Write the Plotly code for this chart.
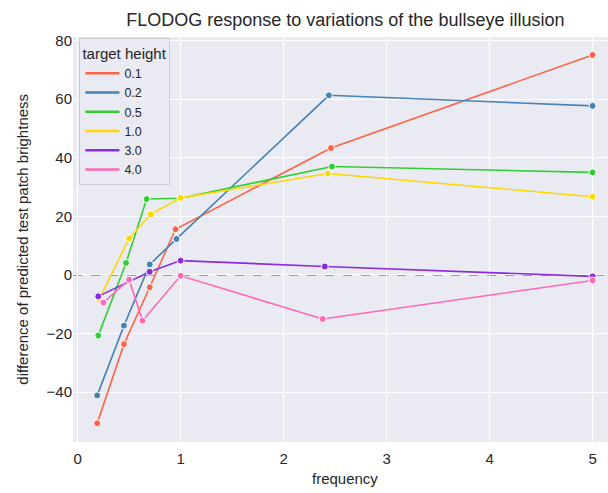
import plotly.graph_objects as go

# FLODOG model output: per target height, frequency vs. brightness difference
heights = ["0.1", "0.2", "0.5", "1.0", "3.0", "4.0"]
colors = ["#FF6347", "#4682B4", "#32CD32", "#FFD700", "#8A2BE2", "#FF69B4"]

freq_01 = [0.19, 0.45, 0.70, 0.95, 2.46, 5.0]
diff_01 = [-50.6, -23.6, -4.2, 15.6, 43.3, 75.1]

freq_02 = [0.19, 0.45, 0.70, 0.96, 2.44, 5.0]
diff_02 = [-41.1, -17.3, 3.6, 12.3, 61.3, 57.7]

freq_05 = [0.20, 0.47, 0.67, 1.0, 2.47, 5.0]
diff_05 = [-20.7, 4.1, 25.9, 26.2, 37.0, 35.0]

freq_10 = [0.21, 0.50, 0.71, 1.0, 2.43, 5.0]
diff_10 = [-8.3, 12.5, 20.7, 26.3, 34.6, 26.7]

freq_30 = [0.20, 0.70, 1.0, 2.40, 5.0]
diff_30 = [-7.3, 1.1, 4.9, 2.9, -0.5]

freq_40 = [0.25, 0.50, 0.63, 1.0, 2.38, 5.0]
diff_40 = [-9.4, -1.6, -15.6, -0.3, -15.0, -1.9]

series = [
    (freq_01, diff_01),
    (freq_02, diff_02),
    (freq_05, diff_05),
    (freq_10, diff_10),
    (freq_30, diff_30),
    (freq_40, diff_40),
]

font_family = "Liberation Sans, Arial, sans-serif"
text_color = "#262626"
fig = go.Figure()

# zero reference line
fig.add_hline(y=0, line=dict(color="#808080", width=1.5, dash="dash"), layer="below")

for (fx, dy), name, col in zip(series, heights, colors):
    fig.add_trace(go.Scatter(
        x=fx, y=dy, mode="lines+markers", name=name, showlegend=False,
        line=dict(color=col, width=1.6),
        marker=dict(color=col, size=7, line=dict(color="white", width=1)),
    ))
    # line-only legend entry
    fig.add_trace(go.Scatter(
        x=[None], y=[None], mode="lines", name=name,
        line=dict(color=col, width=2.5),
    ))

fig.update_layout(
    width=608, height=493,
    margin=dict(l=73, r=0, t=37, b=51),
    paper_bgcolor="white",
    plot_bgcolor="#EAEAF2",
    font=dict(family=font_family, size=15, color=text_color),
    title=dict(
        text="FLODOG response to variations of the bullseye illusion",
        x=0.568, xanchor="center", y=0.96, yanchor="middle",
        font=dict(size=18, color=text_color),
    ),
    legend=dict(
        title=dict(text="target height", font=dict(size=15)),
        x=0.012, y=0.997, xanchor="left", yanchor="top",
        bgcolor="rgba(234,234,242,0.8)",
        bordercolor="#CCCCCC", borderwidth=1,
        font=dict(size=12.5),
        tracegroupgap=0, itemwidth=34,
    ),
    showlegend=True,
    annotations=[
        dict(text="frequency", xref="paper", yref="paper",
             x=0.509, y=-0.091, xanchor="center", yanchor="middle",
             showarrow=False, font=dict(size=15, color=text_color)),
        dict(text="difference of predicted test patch brightness",
             xref="paper", yref="paper", x=-0.095, y=0.5,
             xanchor="center", yanchor="middle", textangle=-90,
             showarrow=False, font=dict(size=15, color=text_color)),
    ],
)

fig.update_xaxes(
    range=[-0.045, 5.15], tickvals=[0, 1, 2, 3, 4, 5],
    showgrid=True, gridcolor="white", gridwidth=1.2, zeroline=False,
    showline=False, ticks="", tickfont=dict(size=15),
    ticklabelstandoff=6,
)
fig.update_yaxes(
    range=[-57, 81.2], tickvals=[-40, -20, 0, 20, 40, 60, 80],
    showgrid=True, gridcolor="white", gridwidth=1.2, zeroline=False,
    showline=False, ticks="", tickfont=dict(size=15),
)

fig.write_html("out.html")
